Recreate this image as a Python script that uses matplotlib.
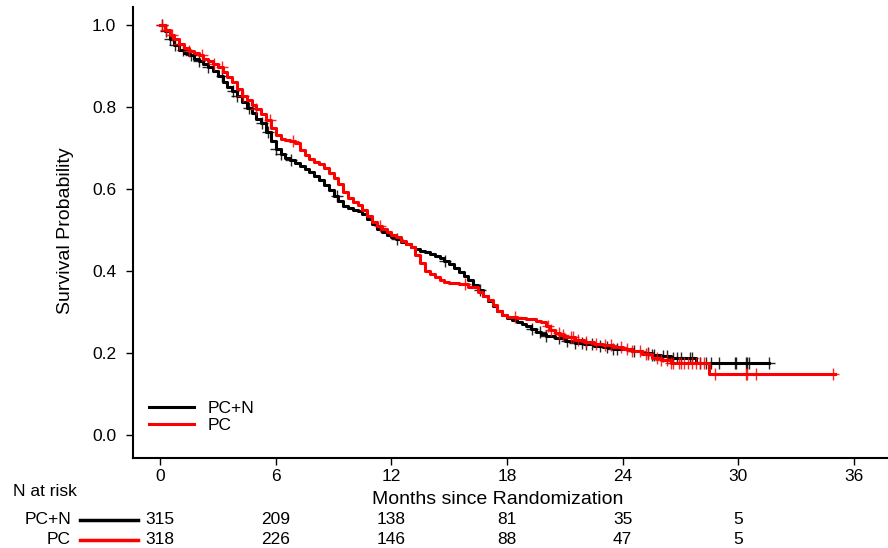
import numpy as np
import matplotlib
matplotlib.use("Agg")
import matplotlib.pyplot as plt
from matplotlib.lines import Line2D

plt.rcParams["font.family"] = ["Liberation Sans", "DejaVu Sans"]

# Kaplan-Meier step points (months, survival)
pcn_t = [0, 0.25, 0.5, 0.75, 1.0, 1.25, 1.5, 1.75, 2.0, 2.25, 2.5, 2.75, 3.0, 3.25, 3.5, 3.75,
         4.0, 4.25, 4.5, 4.75, 5.0, 5.25, 5.5, 5.75, 6.0, 6.25, 6.5, 6.75, 7.0, 7.25, 7.5, 7.75,
         8.0, 8.25, 8.5, 8.75, 9.0, 9.25, 9.5, 9.75, 10.0, 10.25, 10.5, 10.75, 11.0, 11.25, 11.5,
         11.75, 12.0, 12.25, 12.5, 12.75, 13.0, 13.25, 13.5, 13.75, 14.0, 14.25, 14.5, 14.75,
         15.0, 15.25, 15.5, 15.75, 16.0, 16.25, 16.5, 16.75, 17.0, 17.25, 17.5, 17.75, 18.0,
         18.25, 18.5, 18.75, 19.0, 19.25, 19.5, 19.75, 20.0, 20.5, 21.0, 21.5, 22.0, 22.5, 23.0,
         23.5, 24.0, 24.5, 25.0, 25.5, 26.0, 26.5, 27.8]
pcn_s = [1.0, 0.985, 0.965, 0.952, 0.94, 0.933, 0.927, 0.918, 0.912, 0.905, 0.897, 0.888, 0.875,
         0.862, 0.848, 0.838, 0.826, 0.812, 0.797, 0.786, 0.772, 0.760, 0.738, 0.716, 0.697,
         0.685, 0.676, 0.670, 0.664, 0.657, 0.650, 0.642, 0.632, 0.622, 0.610, 0.598, 0.584,
         0.570, 0.559, 0.553, 0.550, 0.546, 0.540, 0.528, 0.515, 0.503, 0.496, 0.489, 0.482,
         0.477, 0.472, 0.466, 0.459, 0.454, 0.450, 0.446, 0.442, 0.437, 0.431, 0.424, 0.417,
         0.407, 0.398, 0.389, 0.378, 0.366, 0.353, 0.340, 0.328, 0.315, 0.303, 0.293, 0.285,
         0.280, 0.275, 0.270, 0.265, 0.259, 0.252, 0.247, 0.242, 0.236, 0.229, 0.224, 0.221,
         0.218, 0.214, 0.211, 0.209, 0.206, 0.201, 0.196, 0.192, 0.188, 0.175]
pcn_end = 31.6
pcn_cens = [0.1, 0.3, 0.5, 0.8, 1.2, 1.6, 2.0, 2.5, 3.2, 3.8, 4.0, 4.6, 5.3, 5.6, 6.0, 6.3,
            6.8, 9.2, 12.3, 14.8, 16.6, 19.3, 19.7, 20.0, 20.7, 21.1, 21.5, 21.9, 22.1, 22.4,
            22.8, 23.2, 23.5, 23.7, 24.6, 25.3, 25.5, 25.6, 26.1, 26.3, 26.6, 26.8, 27.0, 27.5,
            27.6, 28.0, 28.3, 28.6, 29.0, 29.8, 29.9, 30.4, 30.45, 30.55, 31.6]

pc_t = [0, 0.25, 0.5, 0.75, 1.0, 1.25, 1.5, 1.75, 2.0, 2.25, 2.5, 2.75, 3.0, 3.25, 3.5, 3.75,
        4.0, 4.25, 4.5, 4.75, 5.0, 5.25, 5.5, 5.75, 6.0, 6.25, 6.5, 6.75, 7.0, 7.25, 7.5, 7.75,
        8.0, 8.25, 8.5, 8.75, 9.0, 9.25, 9.5, 9.75, 10.0, 10.25, 10.5, 10.75, 11.0, 11.25, 11.5,
        11.75, 12.0, 12.25, 12.5, 12.75, 13.0, 13.25, 13.5, 13.75, 14.0, 14.25, 14.5, 14.75,
        15.0, 15.5, 16.0, 16.5, 16.75, 17.0, 17.25, 17.5, 17.75, 18.0, 18.5, 19.0, 19.5, 19.75,
        20.0, 20.25, 20.5, 20.75, 21.0, 21.5, 22.0, 22.5, 23.0, 23.5, 24.0, 24.5, 25.0, 25.5,
        26.0, 26.5, 28.5]
pc_s = [1.0, 0.988, 0.975, 0.965, 0.955, 0.945, 0.937, 0.932, 0.926, 0.918, 0.912, 0.905,
        0.897, 0.885, 0.873, 0.862, 0.845, 0.828, 0.818, 0.806, 0.795, 0.783, 0.768, 0.750,
        0.733, 0.722, 0.719, 0.716, 0.712, 0.696, 0.683, 0.673, 0.665, 0.660, 0.652, 0.640,
        0.626, 0.612, 0.593, 0.578, 0.568, 0.562, 0.550, 0.534, 0.520, 0.510, 0.503, 0.495,
        0.488, 0.482, 0.474, 0.466, 0.458, 0.440, 0.420, 0.400, 0.392, 0.385, 0.377, 0.374,
        0.372, 0.368, 0.360, 0.349, 0.340, 0.330, 0.316, 0.302, 0.292, 0.287, 0.285, 0.282,
        0.279, 0.276, 0.266, 0.256, 0.249, 0.244, 0.239, 0.232, 0.228, 0.223, 0.219, 0.215,
        0.210, 0.205, 0.197, 0.188, 0.182, 0.175, 0.149]
pc_end = 35.0
pc_cens = [0.1, 0.3, 0.6, 1.0, 1.5, 2.2, 2.8, 3.2, 4.3, 5.0, 5.7, 6.9, 11.4, 15.8, 18.4,
           20.1, 20.3, 20.7, 20.9, 21.3, 21.4, 21.7, 22.1, 22.6, 23.1, 23.4, 23.9, 24.2, 24.5,
           24.9, 25.2, 25.3, 25.8, 26.0, 26.3, 26.5, 26.6, 26.9, 27.0, 27.2, 27.4, 27.6, 27.8,
           28.0, 28.2, 28.8, 30.4, 30.45, 30.9, 34.9]

groups = ["PC+N", "PC"]
colors = ["black", "#ff0000"]
risk_times = [0, 6, 12, 18, 24, 30]
risk_pcn = [315, 209, 138, 81, 35, 5]
risk_pc = [318, 226, 146, 88, 47, 5]

fig = plt.figure(figsize=(8.88, 5.48), dpi=100)
ax = fig.add_axes([0.1498, 0.1642, 0.8502, 0.8230])

curves = [(pcn_t, pcn_s, pcn_end, pcn_cens), (pc_t, pc_s, pc_end, pc_cens)]
for (t, s, end, cens), col in zip(curves, colors):
    tt = list(t) + [end]
    ss = list(s) + [s[-1]]
    ax.step(tt, ss, where="post", color=col, lw=2.2, zorder=3)
    idx = np.searchsorted(t, cens, side="right") - 1
    ax.plot(cens, np.array(s)[idx], ls="none", marker="+", color=col,
            ms=9, mew=1, alpha=0.85, zorder=3)

ax.set_xlim(-1.4, 37.76)
ax.set_ylim(-0.056, 1.044)
ax.set_xticks([0, 6, 12, 18, 24, 30, 36])
ax.set_yticks([0.0, 0.2, 0.4, 0.6, 0.8, 1.0])
ax.set_yticklabels(["0.0", "0.2", "0.4", "0.6", "0.8", "1.0"])
ax.tick_params(labelsize=12.5, length=5, width=1, direction="out", pad=7)
ax.tick_params(axis="x", pad=3)
for side in ["top", "right"]:
    ax.spines[side].set_visible(False)
for side in ["left", "bottom"]:
    ax.spines[side].set_linewidth(1.5)

ax.set_ylabel("Survival Probability", fontsize=14)
ax.yaxis.set_label_coords(-0.078, 0.505)
ax.set_xlabel("Months since Randomization", fontsize=14)
ax.xaxis.set_label_coords(0.483, -0.073)

handles = [Line2D([0], [0], color=c, lw=2.2) for c in colors]
ax.legend(handles, groups, loc="lower left", bbox_to_anchor=(0.0, 0.02), frameon=False,
          fontsize=12.5, handlelength=2.6, labelspacing=0.15, borderaxespad=0.5)

# number at risk table
trans = ax.get_xaxis_transform()
fig.text(13 / 888, 1 - 491 / 548, "N at risk", fontsize=12.5, va="center", ha="left")
for row, (name, col, nums) in enumerate(zip(groups, colors, [risk_pcn, risk_pc])):
    yf = 1 - (520 + 20 * row) / 548
    fig.text(71 / 888, yf, name, fontsize=12.5, va="center", ha="right")
    fig.add_artist(Line2D([80 / 888, 138 / 888], [yf, yf], color=col, lw=2.5,
                          transform=fig.transFigure))
    ya = (yf - 0.1642) / 0.8230
    for tx, n in zip(risk_times, nums):
        ax.text(tx, ya, str(n), transform=trans, fontsize=12.5, ha="center", va="center",
                clip_on=False)

fig.savefig("out.png", dpi=100)
